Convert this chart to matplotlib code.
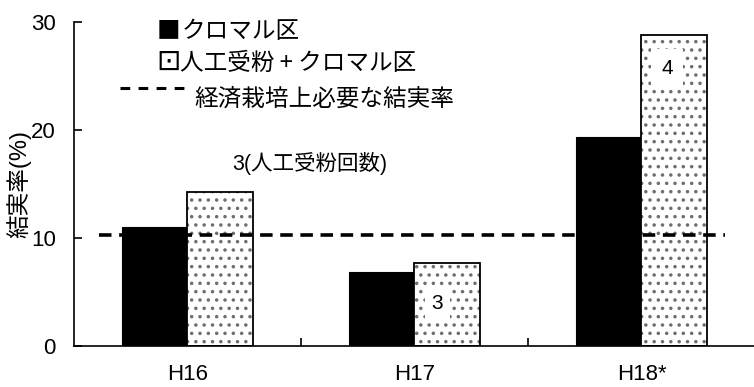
import matplotlib
matplotlib.use("Agg")
import matplotlib.pyplot as plt
from matplotlib.lines import Line2D

plt.rcParams['lines.scale_dashes'] = False
plt.rcParams['hatch.linewidth'] = 1.3

# data
years = ["H16", "H17", "H18*"]
kuromaru = [11.0, 6.8, 19.35]
hand_pollinated = [14.2, 7.7, 28.8]
threshold = 10.25
pollination_counts = ["3", "4"]
series_names = ["クロマル区", "人工受粉 + クロマル区", "経済栽培上必要な結実率"]
y_label = "結実率(%)"
count_note = "3(人工受粉回数)"

W, H = 754, 387
fig = plt.figure(figsize=(W / 100, H / 100), dpi=100)
ax = fig.add_axes([74 / W, 1 - 345.7 / H, 681 / W, 324 / H])

mixed = ['Liberation Sans', 'Noto Sans CJK JP', 'DejaVu Sans']
cjk = ['Noto Sans CJK JP', 'DejaVu Sans']

x = list(range(len(years)))
bw = 0.29
xb = [i - bw / 2 for i in x]
xd = [i + bw / 2 for i in x]

ax.bar(xb, kuromaru, width=bw, color='black', edgecolor='black', linewidth=0.8, zorder=2)
ax.bar(xd, hand_pollinated, width=bw, facecolor='white', edgecolor='#6e6e6e',
       hatch='..', linewidth=0, zorder=2)
ax.bar(xd, hand_pollinated, width=bw, fill=False, edgecolor='black', linewidth=1.3, zorder=3)

ax.plot([-0.388, 2.366], [threshold, threshold], color='black', linewidth=2.6,
        dashes=(9, 5.5), zorder=4)

ax.set_xlim(-0.5, 2.5)
ax.set_ylim(0, 30)
ax.set_yticks([0, 10, 20, 30])
ax.set_xticks(x)
ax.set_xticks([0.5, 1.5], minor=True)
ax.set_xticklabels(years, family=['Liberation Sans Narrow', 'Liberation Sans'], fontsize=16)
ax.tick_params(axis='x', which='major', length=0, pad=13)
ax.tick_params(axis='x', which='minor', direction='in', length=6, width=1.2)
ax.tick_params(axis='y', direction='in', length=6, width=1.2, pad=13, labelsize=16)
for lab in ax.get_yticklabels():
    lab.set_family('Liberation Sans')
for s in ['top', 'right']:
    ax.spines[s].set_visible(False)
for s in ['left', 'bottom']:
    ax.spines[s].set_linewidth(1.2)

ax.set_ylabel(y_label, family=mixed, fontsize=17, labelpad=0)

# annotations
ax.text(0.196, 16.9, count_note, family=mixed, fontsize=15.5, ha='left', va='center')
ax.text(1.10, 3.95, pollination_counts[0], family=mixed, fontsize=15, ha='center', va='center',
        bbox=dict(facecolor='white', edgecolor='none', pad=5), zorder=5)
ax.text(2.112, 25.7, pollination_counts[1], family=mixed, fontsize=15, ha='center', va='center',
        bbox=dict(facecolor='white', edgecolor='none', pad=7), zorder=5)

# legend drawn in figure pixels
def fx(px):
    return px / W

def fy(py):
    return 1 - py / H

fig.text(fx(157), fy(31), "■", family=cjk, fontsize=17, ha='left', va='center')
fig.text(fx(182), fy(31), series_names[0], family=cjk, fontsize=17, ha='left', va='center')
fig.text(fx(156), fy(62), "⊡", family=['DejaVu Sans'], fontsize=21, ha='left', va='center')
fig.text(fx(180), fy(63), series_names[1], family=cjk, fontsize=17, ha='left', va='center')
fig.add_artist(Line2D([fx(120), fx(184)], [fy(88), fy(88)], color='black', linewidth=2.2,
                      dashes=(7, 6), transform=fig.transFigure))
fig.text(fx(194), fy(99), series_names[2], family=cjk, fontsize=17, ha='left', va='center')

fig.savefig("out.png", dpi=100)
